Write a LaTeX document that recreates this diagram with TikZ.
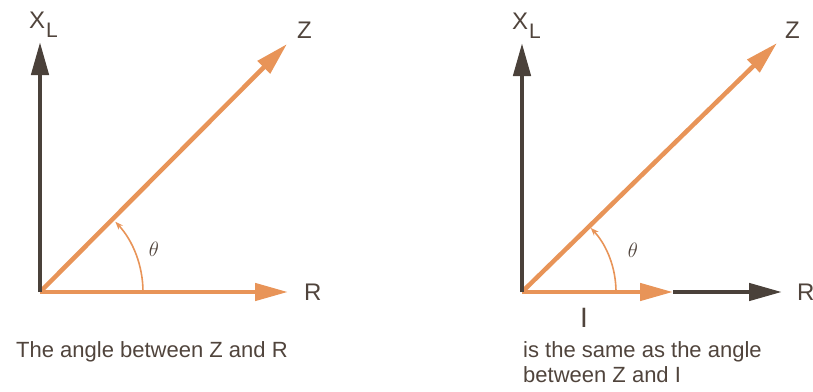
\documentclass[tikz,border=0pt]{standalone}
\usepackage{fontspec}
\setmainfont{Liberation Sans}
\usetikzlibrary{arrows.meta}
\definecolor{vorange}{RGB}{232,148,88}
\definecolor{vdark}{RGB}{74,65,58}
\definecolor{vtext}{RGB}{80,68,60}
\tikzset{
  bigtip/.tip={Triangle[length=33pt,width=17pt]},
  vecor/.style={draw=vorange,line width=4.5pt,-bigtip},
  vecdk/.style={draw=vdark,line width=4.5pt,-bigtip},
  anglearc/.style={draw=vorange,line width=1.6pt,-{Stealth[length=8pt,width=6pt]}},
  lbl/.style={text=vtext,inner sep=0pt,font=\fontsize{24}{24}\selectfont},
  caption/.style={text=vtext,inner sep=0pt,font=\fontsize{22}{26}\selectfont,align=left},
  thlbl/.style={text=vtext,inner sep=0pt,font=\fontsize{22}{22}\selectfont}
}
\newcommand{\xlsub}{X\kern1pt\raisebox{-9pt}{\fontsize{21}{21}\selectfont L}}
\begin{document}
\begin{tikzpicture}[x=1pt,y=-1pt]
\useasboundingbox (0,0) rectangle (813,391);
% ---------- left diagram ----------
\coordinate (O1) at (40,292);
\coordinate (X1) at (40,42);
\coordinate (Z1) at (287,44);
\coordinate (R1) at (288,292);
\draw[vecor] (O1) -- (Z1);
\draw[vecor] (O1) -- (R1);
\draw[vecdk] (O1) -- (X1);
\draw[anglearc] (O1) ++(103,0) arc[start angle=0,end angle=-43,radius=103];
\node[lbl,anchor=base west] (xl1) at (29,28) {\xlsub};
\node[lbl,anchor=base west] (zl1) at (297,38) {Z};
\node[lbl,anchor=base west] (rl1) at (304,300) {R};
\node[thlbl] (th1) at (154,249.5) {$\theta$};
\node[caption,anchor=base west] (cap1) at (16,357) {The angle between Z and R};
% ---------- right diagram ----------
\coordinate (O2) at (522,292);
\coordinate (X2) at (522,43);
\coordinate (Z2) at (777,43);
\coordinate (I2) at (673,292);
\coordinate (R2) at (782,292);
\draw[vecor] (O2) -- (Z2);
\draw[vecdk] (I2) -- (R2);
\draw[vecor] (O2) -- (I2);
\draw[vecdk] (O2) -- (X2);
\draw[anglearc] (O2) ++(94,0) arc[start angle=0,end angle=-43,radius=94];
\node[lbl,anchor=base west] (xl2) at (512,29) {\xlsub};
\node[lbl,anchor=base west] (zl2) at (785,38) {Z};
\node[lbl,anchor=base west] (rl2) at (797,300) {R};
\node[lbl,font=\fontsize{28}{28}\selectfont] (il2) at (584,317.5) {I};
\node[thlbl] (th2) at (633,250) {$\theta$};
\node[caption,anchor=base west] (cap2a) at (523,357) {is the same as the angle};
\node[caption,anchor=base west] (cap2b) at (523,382) {between Z and I};
\end{tikzpicture}
\end{document}
